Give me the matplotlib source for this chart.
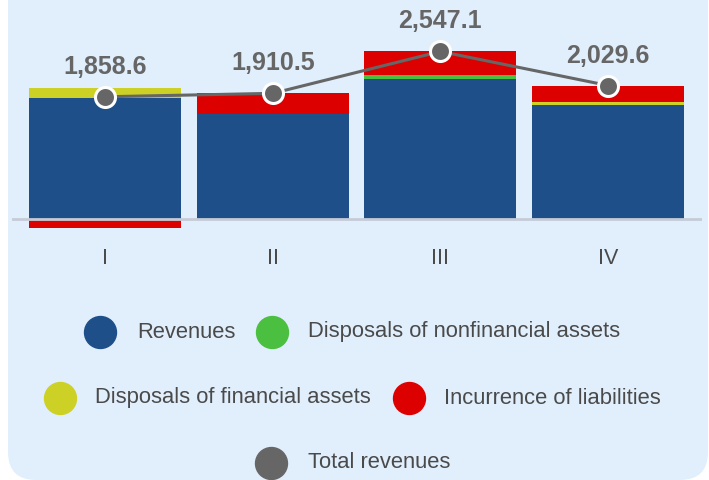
import matplotlib.pyplot as plt
import numpy as np
from matplotlib.patches import FancyBboxPatch
from matplotlib.lines import Line2D

quarters = ['I', 'II', 'III', 'IV']
revenues = [1845.0, 1595.0, 2130.0, 1740.0]
nonfin_assets = [0.0, 0.0, 60.0, 0.0]
fin_assets = [145.0, 0.0, 0.0, 35.0]
liabilities = [-131.4, 315.5, 357.1, 254.6]
total = [1858.6, 1910.5, 2547.1, 2029.6]

c_blue = '#1E4F89'
c_green = '#4BBF3F'
c_yellow = '#CDD126'
c_red = '#DD0000'
c_gray = '#666666'
c_text = '#4A4A4A'

plt.rcParams['font.family'] = ['Liberation Sans', 'DejaVu Sans']

fig = plt.figure(figsize=(7.09, 4.80), dpi=100)
fig.patch.set_facecolor('white')

# light blue rounded panel behind everything
bg = FancyBboxPatch((0.08, 0.0), 7.0, 5.5,
                    boxstyle='round,pad=0,rounding_size=0.28',
                    transform=fig.dpi_scale_trans, facecolor='#E1EFFD',
                    edgecolor='none', zorder=-5)
fig.patches.append(bg)

ax = fig.add_axes([12 / 709, 0.5, 690 / 709, 0.5])
ax.set_facecolor('none')

x = np.arange(len(quarters))
w = 0.906

rev = np.array(revenues)
nf = np.array(nonfin_assets)
fa = np.array(fin_assets)
li = np.array(liabilities)

ax.bar(x, rev, w, color=c_blue, zorder=2)
ax.bar(x, nf, w, bottom=rev, color=c_green, zorder=2)
ax.bar(x, fa, w, bottom=rev + nf, color=c_yellow, zorder=2)
# liabilities: stacked on top if positive, below zero if negative
li_bottom = np.where(li > 0, rev + nf + fa, 0)
ax.bar(x, li, w, bottom=li_bottom, color=c_red, zorder=2)

ax.axhline(0, color='#C5CCD6', lw=2, zorder=3)

ax.plot(x, total, color=c_gray, lw=2.2, marker='o', markersize=14.4,
        markerfacecolor=c_gray, markeredgecolor='white', markeredgewidth=2.2,
        zorder=4)
for xi, v in zip(x, total):
    ax.annotate(f'{v:,.1f}', (xi, v), xytext=(0, 21.6), textcoords='offset points',
                ha='center', va='center', fontsize=18, fontweight='bold', color=c_gray)

ax.set_xlim(-0.555, 3.56)
ax.set_ylim(-320, 3330)
ax.set_xticks(x)
ax.set_xticklabels(quarters, fontsize=15.5, color=c_text)
ax.tick_params(axis='x', length=0, pad=6)
ax.set_yticks([])
for s in ax.spines.values():
    s.set_visible(False)

# legend, laid out by hand in pixel positions
def fx(px):
    return px / 709

def fy(py):
    return 1 - py / 480

legend_items = [
    (100, 137, 332, c_blue, 'Revenues'),
    (272, 308, 332, c_green, 'Disposals of nonfinancial assets'),
    (60, 95, 398, c_yellow, 'Disposals of financial assets'),
    (409, 444, 398, c_red, 'Incurrence of liabilities'),
    (271, 308, 463, c_gray, 'Total revenues'),
]
for cx, tx, cy, col, lab in legend_items:
    fig.add_artist(Line2D([fx(cx)], [fy(cy)], marker='o', markersize=23,
                          color=col, linestyle='none', transform=fig.transFigure))
    fig.text(fx(tx), fy(cy), lab, ha='left', va='center', fontsize=15.8, color=c_text)

fig.savefig('out.png', dpi=100, facecolor='white')
